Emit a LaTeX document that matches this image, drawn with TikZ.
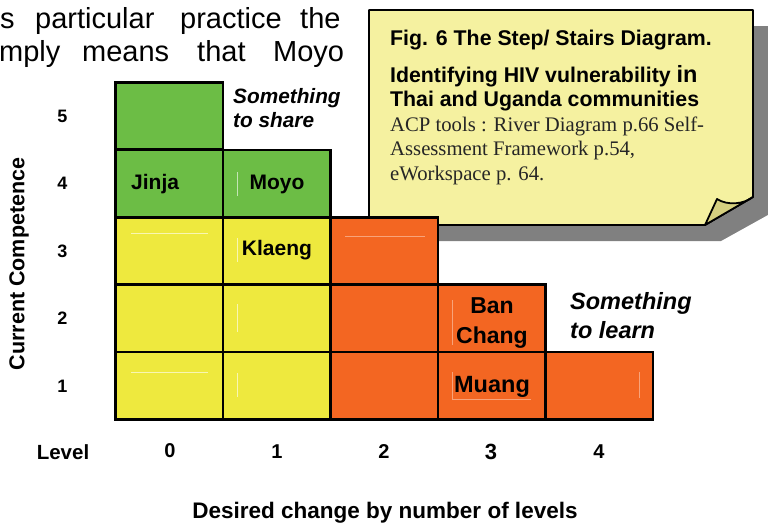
\documentclass[tikz,border=0pt]{standalone}
\usepackage{fontspec}
\setmainfont{Liberation Serif}
\setsansfont{Liberation Sans}
\definecolor{cgreen}{RGB}{108,189,69}
\definecolor{cyellow}{RGB}{238,233,62}
\definecolor{corange}{RGB}{243,102,34}
\definecolor{note}{RGB}{245,241,160}
\definecolor{notefold}{RGB}{214,208,128}
\definecolor{shadowgray}{RGB}{128,128,128}
\newcommand{\fsz}[1]{\fontsize{#1}{#1}\selectfont}
\tikzset{
  cellbox/.style={draw=black, line width=2.6pt, minimum width=107.5pt, minimum height=67.4pt, inner sep=0pt, outer sep=0pt},
  lbl/.style={font=\sffamily\bfseries\fsz{21}, inner sep=0pt},
  axlbl/.style={font=\sffamily\bfseries\fsz{18}, inner sep=0pt},
  bodytxt/.style={font=\sffamily\fsz{29}, inner sep=0pt, anchor=base west},
  ital/.style={font=\sffamily\bfseries\itshape\fsz{20.8}, inner sep=0pt, anchor=base west},
  notebold/.style={font=\sffamily\bfseries\fsz{21.3}, anchor=base west, inner sep=0pt},
  noteserif/.style={font=\rmfamily\fsz{20.7}, anchor=base west, inner sep=0pt, text=black!85},
  faint/.style={line width=0.6pt},
}
\begin{document}
\begin{tikzpicture}[x=1pt,y=-1pt]
\useasboundingbox (0,0) rectangle (768,523);
\begin{scope}
\clip (0,0) rectangle (768,523);
% paragraph fragment
\node[bodytxt] (w1) at (0,28) {s};
\node[bodytxt] (w2) at (35,28) {particular};
\node[bodytxt] (w3) at (180,28) {practice};
\node[bodytxt] (w4) at (300,28) {the};
\node[bodytxt] (w5) at (-1,61) {mply};
\node[bodytxt] (w6) at (82,61) {means};
\node[bodytxt] (w7) at (197,61) {that};
\node[bodytxt] (w8) at (273,61) {Moyo};

% sticky note shadow
\fill[shadowgray] (385,26) -- (775,26) -- (775,211) -- (721,241) -- (385,241) -- cycle;
% sticky note
\path[fill=note, draw=black, line width=1.8pt, line join=round]
  (369,10) -- (753,10) -- (753,197) -- (705,225) -- (369,225) -- cycle;
\path[fill=notefold, draw=black, line width=1.8pt, line join=round]
  (705,225) -- (717,199) .. controls (728,206) and (744,204) .. (753,197) -- cycle;
\node[notebold] (t1) at (390,45) {Fig. 6 The Step/ Stairs Diagram.};
\node[notebold] (t2) at (390,82) {Identifying HIV vulnerability {\fsz{23.5}in}};
\node[notebold] (t3) at (390,106) {Thai and Uganda communities};
\node[noteserif] (t4) at (390,131) {ACP tools : River Diagram p.66 Self-};
\node[noteserif] (t5) at (390,155) {Assessment Framework p.54,};
\node[noteserif] (t6) at (390,180) {eWorkspace p. 64.};

% cells
\node[cellbox, fill=cgreen]  (c05) at (169.2,116) {};
\node[cellbox, fill=cgreen]  (c04) at (169.2,183.5) {};
\node[cellbox, fill=cgreen]  (c14) at (276.7,183.5) {};
\node[cellbox, fill=cyellow] (c03) at (169.2,250.9) {};
\node[cellbox, fill=cyellow] (c02) at (169.2,318.3) {};
\node[cellbox, fill=cyellow] (c01) at (169.2,385.7) {};
\node[cellbox, fill=cyellow] (c13) at (276.7,250.9) {};
\node[cellbox, fill=cyellow] (c12) at (276.7,318.3) {};
\node[cellbox, fill=cyellow] (c11) at (276.7,385.7) {};
\node[cellbox, fill=corange] (c23) at (384.2,250.9) {};
\node[cellbox, fill=corange] (c22) at (384.2,318.3) {};
\node[cellbox, fill=corange] (c21) at (384.2,385.7) {};
\node[cellbox, fill=corange] (c32) at (491.7,318.3) {};
\node[cellbox, fill=corange] (c31) at (491.7,385.7) {};
\node[cellbox, fill=corange] (c41) at (599.2,385.7) {};

% faint text-box traces
\draw[faint, draw=white!60!cyellow] (131,233) -- (208,233);
\draw[faint, draw=white!60!cyellow] (131,372) -- (208,372);
\draw[faint, draw=white!60!cyellow] (237,238) -- (237,262);
\draw[faint, draw=white!60!cyellow] (237,304) -- (237,332);
\draw[faint, draw=white!60!cyellow] (237,373) -- (237,397);
\draw[faint, draw=white!60!cgreen] (237,172) -- (237,196);
\draw[faint, draw=white!40!corange] (345,236) -- (425,236);
\draw[faint, draw=white!40!corange] (452,300) -- (452,345);
\draw[faint, draw=white!40!corange] (452,372) -- (452,399) -- (531,399);
\draw[faint, draw=white!40!corange] (639,372) -- (639,398);

% cell labels
\node[lbl, anchor=west] (jinja) at (131,184) {Jinja};
\node[lbl] (moyo) at (277,184) {Moyo};
\node[lbl] (klaeng) at (277,250) {Klaeng};
\node[lbl, font=\sffamily\bfseries\fsz{23}, anchor=base] (ban) at (492,313) {Ban};
\node[lbl, font=\sffamily\bfseries\fsz{23}, anchor=base] (chang) at (492,343) {Chang};
\node[lbl, font=\sffamily\bfseries\fsz{23.5}] (muang) at (492,387) {Muang};

\node[ital] (share1) at (233,103) {Something};
\node[ital] (share2) at (233,127) {to share};
\node[ital, font=\sffamily\bfseries\itshape\fsz{23.5}] (learn1) at (570,309) {Something};
\node[ital, font=\sffamily\bfseries\itshape\fsz{23.5}] (learn2) at (570,338) {to learn};

% axes labels
\node[axlbl] (r5) at (62.5,116) {5};
\node[axlbl] (r4) at (62.5,183.5) {4};
\node[axlbl] (r3) at (62.5,251) {3};
\node[axlbl] (r2) at (62.5,318.5) {2};
\node[axlbl] (r1) at (62.5,386) {1};
\node[axlbl, font=\sffamily\bfseries\fsz{21.5}, rotate=90] (cc) at (19,264) {Current Competence};

\node[axlbl, font=\sffamily\bfseries\fsz{20.5}] (lev) at (63,452) {Level};
\node[axlbl, font=\sffamily\bfseries\fsz{20}] (l0) at (170,451) {0};
\node[axlbl, font=\sffamily\bfseries\fsz{20}] (l1) at (277,452) {1};
\node[axlbl, font=\sffamily\bfseries\fsz{20}] (l2) at (384,452) {2};
\node[axlbl, font=\sffamily\bfseries\fsz{22}] (l3) at (491,452) {3};
\node[axlbl, font=\sffamily\bfseries\fsz{20}] (l4) at (599,452) {4};

\node[axlbl, font=\sffamily\bfseries\fsz{22.5}] (xl) at (385,513) {Desired change by number of levels};
\end{scope}
\end{tikzpicture}
\end{document}
